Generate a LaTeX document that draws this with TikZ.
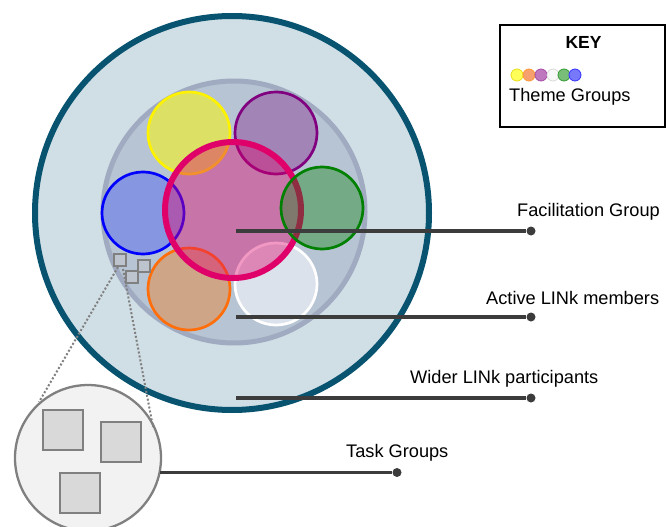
\documentclass[tikz,border=0pt]{standalone}
\usepackage{fontspec}
\setmainfont{Liberation Sans}
\definecolor{outerfill}{RGB}{208,222,229}
\definecolor{outerline}{RGB}{8,84,112}
\definecolor{innerfill}{RGB}{183,196,211}
\definecolor{innerline}{RGB}{160,171,193}
\definecolor{cyellow}{RGB}{220,224,100}
\definecolor{cpurple}{RGB}{163,132,183}
\definecolor{cblue}{RGB}{135,150,225}
\definecolor{corange}{RGB}{207,165,135}
\definecolor{cwhite}{RGB}{220,226,235}
\definecolor{cmagenta}{RGB}{224,0,106}
\definecolor{lpurple}{RGB}{128,0,128}
\definecolor{lorange}{RGB}{255,110,10}
\definecolor{lgreen}{RGB}{0,128,0}
\definecolor{conn}{RGB}{60,60,60}
\definecolor{taskgray}{RGB}{128,128,128}
\definecolor{taskfill}{RGB}{242,242,242}
\definecolor{sqfill}{RGB}{217,217,217}
\definecolor{smallsq}{RGB}{190,196,205}
\begin{document}
\begin{tikzpicture}[x=1pt,y=-1pt,
  theme/.style={circle, minimum size=82pt, inner sep=0pt, line width=2.7pt},
  keydot/.style={circle, minimum size=12pt, inner sep=0pt, line width=0.8pt},
  dot/.style={circle, fill=conn, minimum size=9pt, inner sep=0pt},
  conline/.style={draw=conn, line width=3.2pt},
  lbl/.style={font=\fontsize{18.2}{21}\selectfont, inner sep=0pt, anchor=west},
  bigsq/.style={draw=taskgray, fill=sqfill, line width=2.3pt, minimum size=40pt, inner sep=0pt},
  tinysq/.style={draw=taskgray, fill=smallsq, line width=2.3pt, minimum size=12pt, inner sep=0pt},
  dotline/.style={draw=taskgray, line width=2pt, dash pattern=on 2pt off 2pt}]
\useasboundingbox (0,0) rectangle (667,527);
% outer and inner circles
\node[circle, draw=outerline, fill=outerfill, line width=6pt, minimum size=394pt, inner sep=0pt] (wider) at (232,213) {};
\node[circle, draw=innerline, fill=innerfill, line width=5pt, minimum size=262pt, inner sep=0pt] (active) at (234,212) {};
% theme circles under the facilitation circle
\node[theme, draw=yellow, fill=cyellow] (yel) at (189,133) {};
\node[theme, draw=lpurple, fill=cpurple] (pur) at (276,133) {};
\node[theme, draw=blue, fill=cblue] (blu) at (143,213) {};
\node[theme, draw=lorange, fill=corange] (ora) at (189,289) {};
\node[theme, draw=white, fill=cwhite] (whi) at (276,284) {};
% facilitation circle
\node[circle, draw=cmagenta, fill=cmagenta, fill opacity=0.4, line width=6pt, minimum size=136pt, inner sep=0pt] (fac) at (233,210) {};
% green on top
\node[theme, draw=lgreen, fill=lgreen, fill opacity=0.36] (gre) at (322,208) {};
% tiny task squares
\node[tinysq] (t1) at (120,260) {};
\node[tinysq] (t2) at (144,266) {};
\node[tinysq] (t3) at (132,277) {};
% task groups circle
\node[circle, draw=taskgray, fill=taskfill, line width=2.3pt, minimum size=146pt, inner sep=0pt] (task) at (88,458) {};
\node[bigsq] (s1) at (63,430) {};
\node[bigsq] (s2) at (121,442) {};
\node[bigsq] (s3) at (80,493) {};
% dotted zoom lines
\coordinate (z1) at (118,267);
\coordinate (z2) at (123,269);
\coordinate (z3) at (39,402);
\coordinate (z4) at (153,427);
\draw[dotline] (z1) -- (z3);
\draw[dotline] (z2) -- (z4);
% connectors
\coordinate (f0) at (236,231);
\node[dot] (f1) at (531,231) {};
\draw[conline] (f0) -- (f1);
\coordinate (a0) at (236,317);
\node[dot] (a1) at (531,317) {};
\draw[conline] (a0) -- (a1);
\coordinate (w0) at (236,398);
\node[dot] (w1) at (531,398) {};
\draw[conline] (w0) -- (w1);
\coordinate (k0) at (160,472.5);
\node[dot] (k1) at (397,472.5) {};
\draw[conline] (k0) -- (k1);
% labels
\node[lbl] (lf) at (517,212) {Facilitation Group};
\node[lbl] (la) at (486,298) {Active LINk members};
\node[lbl] (lw) at (410,379) {Wider LINk participants};
\node[lbl] (lt) at (346,453) {Task Groups};
% key
\node[draw=black, line width=2pt, minimum width=165pt, minimum height=102pt, inner sep=0pt] (key) at (582.5,76) {};
\node[font=\bfseries\fontsize{17.5}{20}\selectfont, inner sep=0pt] (keyt) at (583.5,42) {KEY};
\node[keydot, draw=yellow!90!black, fill={rgb,255:red,255;green,255;blue,90}] (k1a) at (517,75) {};
\node[keydot, draw=orange!80!white, fill={rgb,255:red,245;green,160;blue,110}] (k2a) at (529,75) {};
\node[keydot, draw=lpurple!70!white, fill={rgb,255:red,190;green,120;blue,190}] (k3a) at (541,75) {};
\node[keydot, draw=black!15, fill={rgb,255:red,248;green,248;blue,248}] (k4a) at (553,75) {};
\node[keydot, draw=lgreen!80!white, fill={rgb,255:red,120;green,190;blue,120}] (k5a) at (564,75) {};
\node[keydot, draw=blue!80!white, fill={rgb,255:red,120;green,120;blue,250}] (k6a) at (575,75) {};
\node[lbl] (lk) at (509,97) {Theme Groups};
\end{tikzpicture}
\end{document}
